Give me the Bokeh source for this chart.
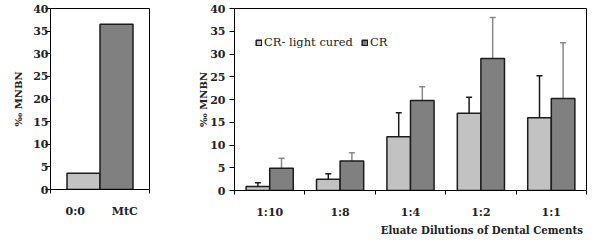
from bokeh.plotting import figure
from bokeh.models import (Range1d, FixedTicker, Whisker, ColumnDataSource,
                          Legend, LegendItem, TeeHead, Title)
from bokeh.layouts import row
from bokeh.embed import file_html
from bokeh.resources import INLINE

# ---------------- data ----------------
control_labels = ["0:0", "MtC"]
control_values = [3.6, 36.5]

dilutions = ["1:10", "1:8", "1:4", "1:2", "1:1"]
light_cured = [0.9, 2.5, 11.8, 17.0, 16.0]
light_cured_err = [0.8, 1.2, 5.3, 3.5, 9.2]
cr = [4.9, 6.5, 19.8, 29.0, 20.2]
cr_err = [2.2, 1.8, 3.0, 9.0, 12.3]

y_ticks = [0, 5, 10, 15, 20, 25, 30, 35, 40]
series_names = ["CR- light cured", "CR"]
y_label = "‰ MNBN"
x_title = "Eluate Dilutions  of Dental Cements"

# ---------------- style ----------------
LIGHT = "#c2c2c2"
DARK = "#808080"
EDGE = "#1c1c1c"
FONT = "DejaVu Serif"
TXT = "#222222"


def style_axes(p, label_standoff_y, axis_label_standoff_y):
    p.xgrid.grid_line_color = None
    p.ygrid.grid_line_color = None
    p.outline_line_color = "black"
    p.outline_line_width = 1
    p.background_fill_color = "white"
    p.border_fill_color = "white"

    ya = p.yaxis[0]
    ya.ticker = FixedTicker(ticks=y_ticks)
    ya.major_tick_in = 0
    ya.major_tick_out = 5
    ya.minor_tick_line_color = None
    ya.axis_line_color = "black"
    ya.major_tick_line_color = "black"
    ya.major_label_text_font = FONT
    ya.major_label_text_font_style = "bold"
    ya.major_label_text_font_size = "11px"
    ya.major_label_text_color = TXT
    ya.major_label_standoff = label_standoff_y
    ya.axis_label = y_label
    ya.axis_label_text_font = FONT
    ya.axis_label_text_font_style = "bold"
    ya.axis_label_text_font_size = "10px"
    ya.axis_label_text_color = TXT
    ya.axis_label_standoff = axis_label_standoff_y

    xa = p.xaxis[0]
    xa.major_tick_line_color = None
    xa.major_tick_out = 0
    xa.major_tick_in = 0
    xa.minor_tick_out = 4
    xa.minor_tick_in = 0
    xa.minor_tick_line_color = "black"
    xa.axis_line_color = "black"
    xa.major_label_standoff = 11
    xa.major_label_text_font = FONT
    xa.major_label_text_font_style = "bold"
    xa.major_label_text_font_size = "11px"
    xa.major_label_text_color = TXT
    return xa


# ---------------- left chart ----------------
left = figure(output_backend="svg", toolbar_location=None,
              x_range=Range1d(0, len(control_labels)), y_range=Range1d(0, 40),
              frame_width=99, frame_height=181,
              min_border_left=50, min_border_right=1,
              min_border_top=8, min_border_bottom=37)
left_offsets = [1 / 6, -1 / 6]
left_src = ColumnDataSource(dict(
    x=[i + 0.5 + o for i, o in enumerate(left_offsets)],
    top=control_values,
    color=[LIGHT, DARK],
))
left.vbar(x="x", top="top", bottom=0, width=2 / 3, source=left_src,
          fill_color="color", line_color=EDGE, line_width=1.5)
xa = style_axes(left, -3, 6)
xa.ticker = FixedTicker(ticks=[i + 0.5 for i in range(len(control_labels))],
                        minor_ticks=[0, len(control_labels)])
xa.major_label_overrides = {i + 0.5: lab for i, lab in enumerate(control_labels)}

# ---------------- right chart ----------------
right = figure(output_backend="svg", toolbar_location=None,
               x_range=Range1d(0, len(dilutions)), y_range=Range1d(0, 40),
               frame_width=352, frame_height=182,
               min_border_left=84, min_border_right=2,
               min_border_top=7, min_border_bottom=37)
off = 0.1675
bw = 0.335
xs = [i + 0.5 for i in range(len(dilutions))]
src_l = ColumnDataSource(dict(x=[c - off for c in xs], top=light_cured,
                              hi=[v + e for v, e in zip(light_cured, light_cured_err)]))
src_d = ColumnDataSource(dict(x=[c + off for c in xs], top=cr,
                              hi=[v + e for v, e in zip(cr, cr_err)]))
r_l = right.vbar(x="x", top="top", bottom=0, width=bw, source=src_l,
                 fill_color=LIGHT, line_color=EDGE, line_width=1.5)
r_d = right.vbar(x="x", top="top", bottom=0, width=bw, source=src_d,
                 fill_color=DARK, line_color=EDGE, line_width=1.5)

w_l = Whisker(base="x", lower="top", upper="hi", source=src_l,
              line_color="#1a1a1a", line_width=1.5,
              upper_head=TeeHead(size=6, line_color="#1a1a1a", line_width=1.5),
              lower_head=None)
w_d = Whisker(base="x", lower="top", upper="hi", source=src_d,
              line_color="#8a8a8a", line_width=1.5,
              upper_head=TeeHead(size=6, line_color="#8a8a8a", line_width=1.5),
              lower_head=None)
right.add_layout(w_l)
right.add_layout(w_d)

xa = style_axes(right, 4, -2)
xa.ticker = FixedTicker(ticks=xs, minor_ticks=list(range(len(dilutions) + 1)))
xa.major_label_overrides = {c: lab for c, lab in zip(xs, dilutions)}

right.add_layout(Title(text=x_title, align="right", offset=0, standoff=0,
                       text_font=FONT, text_font_style="bold",
                       text_font_size="10.2px", text_color=TXT), "below")

legend = Legend(items=[LegendItem(label=series_names[0], renderers=[r_l]),
                       LegendItem(label=series_names[1], renderers=[r_d])],
                orientation="horizontal", location=(21, 141),
                glyph_width=7, glyph_height=7, label_standoff=2, spacing=8,
                padding=0, margin=0, label_height=14,
                label_text_font=FONT, label_text_font_size="11.5px",
                label_text_color=TXT,
                border_line_color=None, background_fill_alpha=0)
right.add_layout(legend)

layout = row(left, right)
open("out.html", "w").write(file_html(layout, INLINE))
